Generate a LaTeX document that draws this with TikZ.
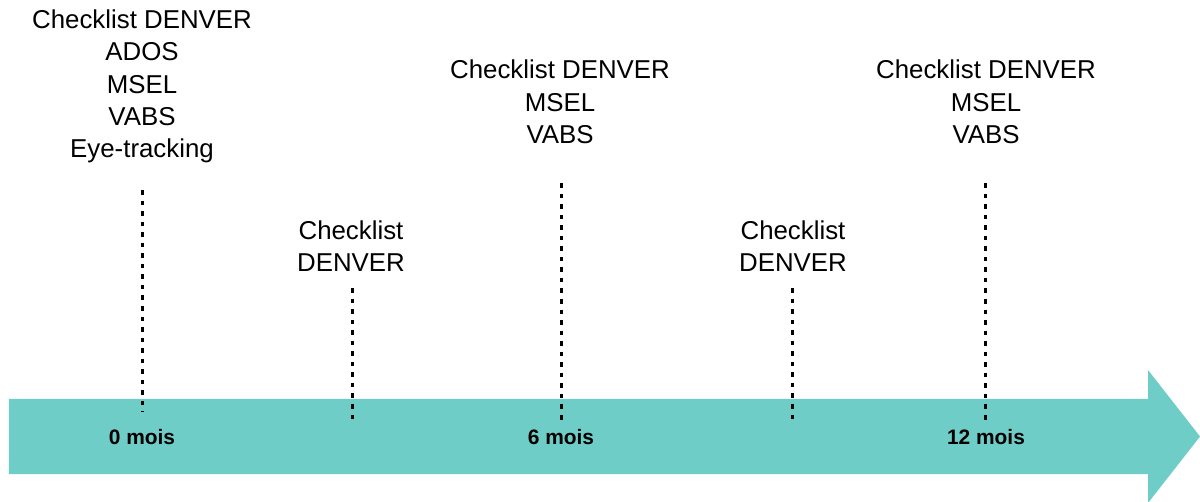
\documentclass[tikz,border=0pt]{standalone}
\usepackage{fontspec}
\setmainfont{Liberation Sans}
\usepackage{xcolor}
\usepackage{tikz}
\usetikzlibrary{positioning, calc}
\definecolor{frisebleu}{RGB}{111, 205, 199}

\begin{document}
\begin{tikzpicture}[
    evalbox/.style={align=center, inner sep=0pt, font=\fontsize{14.7}{18.4}\selectfont},
    moislabel/.style={inner sep=0pt, font=\fontsize{11.9}{14}\selectfont\bfseries},
    tick/.style={black, line width=1.7pt, dash pattern=on 2.6pt off 3.4pt}
]
    \useasboundingbox (0,0) rectangle (24,10.02);

    % The timeline (big arrow)
    \fill[frisebleu] (0.18,0.54) -- (22.96,0.54) -- (22.96,-0.04) -- (24,1.29)
        -- (22.96,2.62) -- (22.96,2.04) -- (0.18,2.04) -- cycle;

    % Month labels on the arrow
    \node[moislabel] (m0) at (2.84,1.28) {0 mois};
    \node[moislabel] (m6) at (11.22,1.28) {6 mois};
    \node[moislabel] (m12) at (19.72,1.28) {12 mois};

    % Evaluations at each visit
    \node[evalbox] (v0) at (2.84,8.29) {Checklist DENVER\\ADOS\\MSEL\\VABS\\Eye-tracking};
    \node[evalbox] (v3) at (7.02,5.10) {Checklist\\DENVER};
    \node[evalbox] (v6) at (11.20,7.98) {Checklist DENVER\\MSEL\\VABS};
    \node[evalbox] (v9) at (15.86,5.10) {Checklist\\DENVER};
    \node[evalbox] (v12) at (19.72,7.98) {Checklist DENVER\\MSEL\\VABS};

    % Ticks (dashed) from the visits down to the arrow
    \coordinate (t0) at (2.85,6.22);   \coordinate (b0) at (2.85,1.78);
    \coordinate (t3) at (7.04,4.26);   \coordinate (b3) at (7.04,1.62);
    \coordinate (t6) at (11.22,6.36);  \coordinate (b6) at (11.22,1.58);
    \coordinate (t9) at (15.84,4.26);  \coordinate (b9) at (15.84,1.60);
    \coordinate (t12) at (19.70,6.36); \coordinate (b12) at (19.70,1.62);
    \foreach \v in {0, 3, 6, 9, 12} {
        \draw[tick] (t\v) -- (b\v);
    }
\end{tikzpicture}
\end{document}
